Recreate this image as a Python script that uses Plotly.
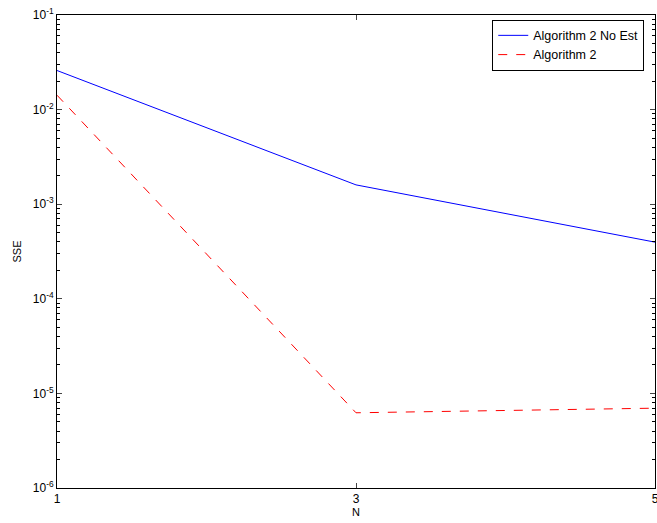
import plotly.graph_objects as go

N = [1, 3, 5]
sse_no_est = [0.0259, 0.0016, 3.97e-4]
sse_alg2 = [0.0142, 6.24e-6, 6.98e-6]
x_ticks = [1, 3, 5]
y_exponents = [-6, -5, -4, -3, -2, -1]

y_tickvals = [10.0 ** e for e in y_exponents]
y_ticktext = ["10<sup>%d</sup>" % e for e in y_exponents]
minor_vals = [m * 10.0 ** e for e in y_exponents[:-1] for m in range(2, 10)]

fig = go.Figure()
fig.add_trace(go.Scatter(x=N, y=sse_no_est, mode="lines", name="Algorithm 2 No Est",
                         line=dict(color="#0000ff", width=1)))
fig.add_trace(go.Scatter(x=N, y=sse_alg2, mode="lines", name="Algorithm 2",
                         line=dict(color="#ff0000", width=1, dash="dash")))

font = dict(family="Liberation Sans, Arial, sans-serif", size=12, color="black")
fig.update_layout(
    width=657, height=523,
    margin=dict(l=57, r=2, t=15, b=34.5, autoexpand=False),
    paper_bgcolor="white", plot_bgcolor="white",
    font=font,
    showlegend=True,
    legend=dict(x=0.982, y=0.99, xanchor="right", yanchor="top",
                bordercolor="black", borderwidth=1, bgcolor="white",
                font=dict(family="Liberation Sans, Arial, sans-serif", size=12.5),
                tracegroupgap=0, itemwidth=30),
)
fig.update_xaxes(
    range=[1, 5], tickvals=x_ticks, ticks="inside", ticklen=5,
    showline=True, linecolor="black", linewidth=1, mirror="ticks",
    showgrid=False, zeroline=False, ticklabeloverflow="allow", automargin=False,
    title=dict(text="N", standoff=2, font=dict(size=11)),
)
fig.update_yaxes(
    type="log", range=[-6, -1], tickvals=y_tickvals, ticktext=y_ticktext,
    ticks="inside", ticklen=5, automargin=False, ticklabeloverflow="allow",
    showline=True, linecolor="black", linewidth=1, mirror="ticks",
    showgrid=False, zeroline=False,
    minor=dict(tickvals=minor_vals, ticks="inside", ticklen=3,
               tickcolor="black", showgrid=False),
    title=dict(text="SSE", standoff=8, font=dict(size=11)),
)
fig.write_html(
    "out.html",
    config={"displayModeBar": False},
    post_script="document.body.style.margin='0';document.body.style.overflow='hidden';",
)
